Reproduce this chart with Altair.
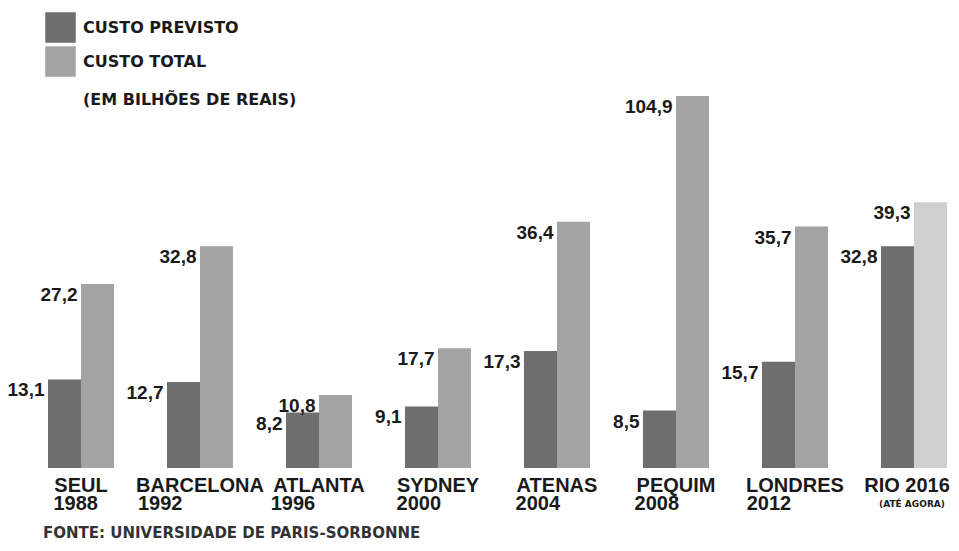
import altair as alt
import pandas as pd

cidades = ["SEUL", "BARCELONA", "ATLANTA", "SYDNEY", "ATENAS", "PEQUIM", "LONDRES", "RIO 2016"]
anos = ["1988", "1992", "1996", "2000", "2004", "2008", "2012", "(ATÉ AGORA)"]
custo_previsto = [13.1, 12.7, 8.2, 9.1, 17.3, 8.5, 15.7, 32.8]
custo_total = [27.2, 32.8, 10.8, 17.7, 36.4, 104.9, 35.7, 39.3]
series = ["CUSTO PREVISTO", "CUSTO TOTAL"]
nota = "(EM BILHÕES DE REAIS)"
fonte = "FONTE: UNIVERSIDADE DE PARIS-SORBONNE"

rows = []
for c, p, t in zip(cidades, custo_previsto, custo_total):
    for s, v in zip(series, [p, t]):
        rows.append({"cidade": c, "serie": s, "valor": v,
                     "rotulo": f"{v:.1f}".replace(".", ",")})
df = pd.DataFrame(rows)
df_cid = pd.DataFrame({"cidade": cidades, "ano": anos})

W, H = 899, 372
FONT = "DejaVu Sans"
FONT2 = "Liberation Sans"
INK = "#1a1a1a"

xs = alt.X("cidade:N", sort=cidades, axis=None,
           scale=alt.Scale(paddingInner=0.445, paddingOuter=0))
xo = alt.XOffset("serie:N", sort=series,
                 scale=alt.Scale(paddingInner=0, paddingOuter=0))
ys = alt.Y("valor:Q", axis=None,
           scale=alt.Scale(domain=[0, 55], clamp=True, nice=False))

bars = alt.Chart(df).mark_bar().encode(
    x=xs, xOffset=xo, y=ys,
    color=alt.condition(
        "datum.cidade == 'RIO 2016' && datum.serie == 'CUSTO TOTAL'",
        alt.value("#cfcfcf"),
        alt.Color("serie:N",
                  scale=alt.Scale(domain=series, range=["#6e6e6e", "#a3a3a3"]),
                  legend=alt.Legend(orient="none", legendX=-3, legendY=-84,
                                    direction="vertical", title=None,
                                    symbolType="square", symbolSize=930,
                                    symbolStrokeWidth=0, labelFont=FONT,
                                    labelFontWeight="bold", labelFontSize=16,
                                    labelColor=INK, labelOffset=7,
                                    rowPadding=3, padding=0)),
    ),
)

labels = alt.Chart(df).mark_text(
    align="right", baseline="middle", dx=-20, dy=11,
    font=FONT2, fontWeight="bold", fontSize=19, color=INK,
).encode(x=xs, xOffset=xo, y=ys, text="rotulo:N")

linha1 = alt.Chart(df_cid).mark_text(
    align="center", baseline="alphabetic", font=FONT2, fontWeight="bold",
    fontSize=20, color=INK,
    dx=alt.expr("datum.cidade == 'RIO 2016' ? -7 : 0"),
).encode(x=xs, y=alt.value(396), text="cidade:N")

linha2 = alt.Chart(df_cid).transform_filter(
    "datum.cidade != 'RIO 2016'"
).mark_text(
    align="left", baseline="alphabetic", font=FONT2, fontWeight="bold",
    fontSize=20, color=INK,
    dx=alt.expr("-length(datum.cidade) * 6.9"),
).encode(x=xs, y=alt.value(414), text="ano:N")

linha2_rio = alt.Chart(df_cid).transform_filter(
    "datum.cidade == 'RIO 2016'"
).mark_text(
    align="center", baseline="alphabetic", font=FONT, fontWeight="bold",
    fontSize=9, color=INK, dx=-2,
).encode(x=xs, y=alt.value(411), text="ano:N")

nota_txt = alt.Chart(pd.DataFrame({"t": [nota]})).mark_text(
    align="left", baseline="middle", font=FONT, fontWeight="bold",
    fontSize=16, color=INK,
).encode(x=alt.value(35), y=alt.value(4), text="t:N")

fonte_txt = alt.Chart(pd.DataFrame({"t": [fonte]})).mark_text(
    align="left", baseline="alphabetic", font=FONT, fontWeight="bold",
    fontSize=15, color="#333333",
).encode(x=alt.value(-5), y=alt.value(442), text="t:N")

chart = alt.layer(bars, labels, linha1, linha2, linha2_rio, nota_txt, fonte_txt).properties(
    width=W, height=H,
    autosize=alt.AutoSizeParams(type="none"),
    padding={"left": 40, "top": 88, "right": 4, "bottom": 75},
    background="white",
).configure_view(stroke=None)

chart.save("out.html", embed_options={"renderer": "svg", "actions": False})
